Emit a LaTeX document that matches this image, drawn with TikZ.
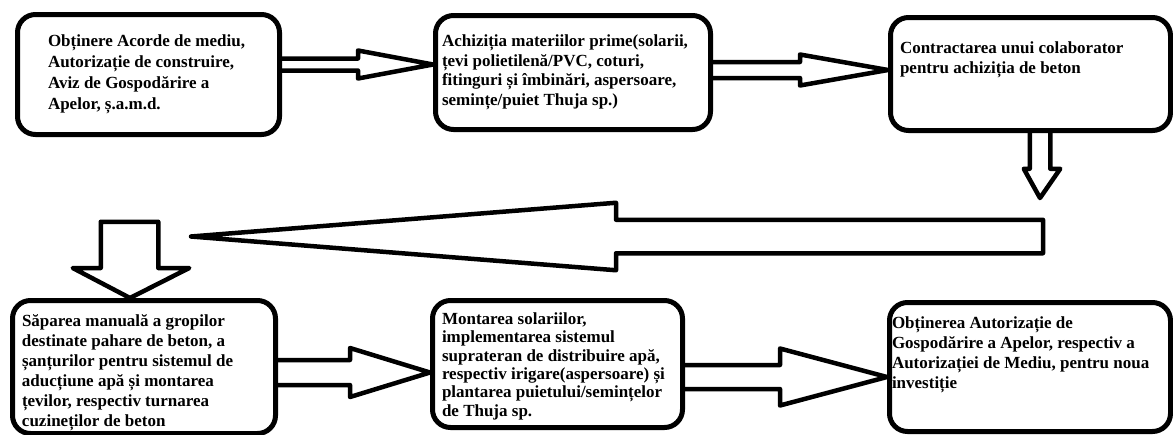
\documentclass[tikz,border=0pt]{standalone}
\usepackage{fontspec}
\setmainfont{Liberation Serif}

% text placed inside a stage: width, height, top offset, left offset, text
\newcommand{\inbox}[5]{\parbox[c][#2pt][t]{#1pt}{\vspace*{#3pt}\raggedright\leftskip=#4pt\relax #5}}

\begin{document}
\begin{tikzpicture}[
    x=1pt, y=-1pt,
    font=\bfseries\fontsize{17}{20}\selectfont,
    stage/.style={draw, line width=5pt, rounded corners=18pt, inner sep=0pt, anchor=north west},
    blk/.style={line width=4.5pt, line join=round}
]
\useasboundingbox (0,0) rectangle (1173,434);
% Top row
\node[stage, font=\bfseries\fontsize{17}{21}\selectfont] (b1) at (15,12) {\inbox{262}{120}{20.5}{30.5}{Obținere Acorde de mediu,\\Autorizație de construire,\\Aviz de Gospodărire a\\Apelor, ș.a.m.d.}};
\node[stage, font=\bfseries\fontsize{17}{19.5}\selectfont] (b2) at (433,13) {\inbox{275}{114}{19.5}{6.5}{Achiziția materiilor prime(solarii,\\țevi polietilenă/PVC, coturi,\\fitinguri și îmbinări, aspersoare,\\semințe/puiet Thuja sp.)}};
\node[stage] (b3) at (888,15) {\inbox{280}{113}{24.5}{9.5}{Contractarea unui colaborator\\pentru achiziția de beton}};
% Bottom row
\node[stage] (b4) at (10,298)  {\inbox{263}{133}{14.5}{9.5}{Săparea manuală a gropilor\\destinate pahare de beton, a\\șanțurilor pentru sistemul de\\aducțiune apă și montarea\\țevilor, respectiv turnarea\\cuzineților de beton}};
\node[stage, font=\bfseries\fontsize{17}{18.4}\selectfont] (b5) at (430,298) {\inbox{250}{127}{12}{9.5}{Montarea solariilor,\\implementarea sistemul\\suprateran de distribuire apă,\\respectiv irigare(aspersoare) și\\plantarea puietului/semințelor\\de Thuja sp.}};
\node[stage] (b6) at (887,300) {\inbox{281}{129}{14.5}{2.5}{Obținerea Autorizație de\\Gospodărire a Apelor, respectiv a\\Autorizației de Mediu, pentru noua\\investiție}};
% hollow arrows along the rows
\foreach \a/\b/\m/\s/\h/\x in {b1/b2/64.5/6/14/358, b2/b3/70/8/15.5/800, b4/b5/372.5/12.5/24.5/350, b5/b6/377/12/28.5/780}
   \draw[blk] (\a.east |- 0,{\m-\s}) -- (\x,{\m-\s}) -- (\x,{\m-\h}) -- (\b.west |- 0,\m)
      -- (\x,{\m+\h}) -- (\x,{\m+\s}) -- (\a.east |- 0,{\m+\s});
% turn back to the bottom row
\coordinate (down) at (1040,198);
\coordinate (back) at (1043,236.5);
\coordinate (tip)  at (191,236.5);
\coordinate (drop) at (130,221.75);
\draw[blk] (1029.75,0 |- b3.south) -- (1029.75,168.75) -- (1023.75,168.75) -- (down)
   -- (1060.25,168.75) -- (1050.25,168.75) -- (1050.25,0 |- b3.south);
\draw[blk] (tip) -- (616,202.75) -- (616,219.75) -- (back |- 0,219.75) -- (back |- 0,253.25)
   -- (616,253.25) -- (616,270.25) -- cycle;
\draw[blk] (drop) -- (158.25,0 |- drop) -- (158.25,268) -- (189.25,268) -- (130,0 |- b4.north)
   -- (72.75,268) -- (100.75,268) -- (100.75,0 |- drop) -- cycle;
\end{tikzpicture}
\end{document}
